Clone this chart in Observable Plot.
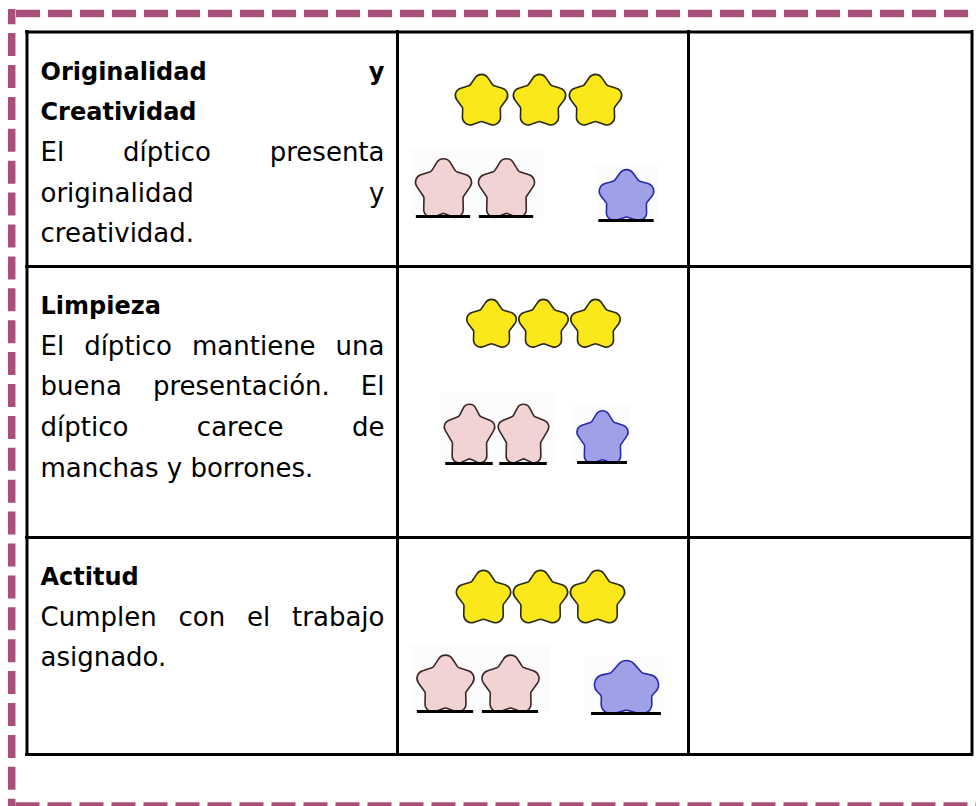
<!DOCTYPE html>
<html><head><meta charset="utf-8">
<script src="https://cdn.jsdelivr.net/npm/d3@7"></script>
<script src="https://cdn.jsdelivr.net/npm/@observablehq/plot@0.6"></script>
<style>html,body{margin:0;padding:0;background:#fff;overflow:hidden}</style>
</head><body><div id="chart"></div>
<script>
// ---------------- data ----------------
const criteria = ["Originalidad y Creatividad", "Limpieza", "Actitud"];
const criterionLines = [["Originalidad y", "Creatividad"], ["Limpieza"], ["Actitud"]];
const descriptionLines = [
  ["El díptico presenta", "originalidad y", "creatividad."],
  ["El díptico mantiene una", "buena presentación. El", "díptico carece de", "manchas y borrones."],
  ["Cumplen con el trabajo", "asignado."]
];
const yellowStars = [3, 3, 3];
const pinkStars = [2, 2, 2];
const blueStars = [1, 1, 1];

// ---------------- layout (separate from data) ----------------
const W = 976, H = 806;
const colEdges = [26.5, 397, 688, 971.5];
const rowEdges = [31.5, 266, 537, 754];
const frameColor = "#a8507b";
const textLeft = 40, textRight = 384;
const firstBaseline = 47.5, lineStep = 40.7;
const boldFont = {size: 24, weight: "bold"};
const regFont = {size: 26, weight: "normal"};
const family = "DejaVu Sans";

// star placement offsets relative to the middle cell's top-left corner
const starLayout = [
  {y: {dx: [84, 142, 198], dy: 69.5, r: 27, a: 1},
   p: {dx: [46, 109], dy: 158, r: 28, a: 1.13, line: 184.5, bg: [14, 146, 117.5, 185.5]},
   b: {dx: [229], dy: 165, r: 28.5, a: 0.95, line: 188.5, bg: [198, 261, 133.5, 190.5]}},
  {y: {dx: [94, 146, 198], dy: 58.5, r: 25.5, a: 1},
   p: {dx: [72, 126], dy: 168.8, r: 24.5, a: 1.3, line: 197, bg: [44, 159, 127, 198]},
   b: {dx: [205], dy: 172.3, r: 25.7, a: 1.1, line: 196, bg: [176, 233, 138, 198]}},
  {y: {dx: [86, 143, 200], dy: 61, r: 28, a: 1},
   p: {dx: [48, 113], dy: 148, r: 29, a: 1.05, line: 174, bg: [14, 153, 108, 175]},
   b: {dx: [229], dy: 152, r: 36, a: 0.78, line: 176, bg: [188, 268, 119, 179]}}
];

// ---------------- helpers ----------------
const ctx = document.createElement("canvas").getContext("2d");
function measure(t, f) { ctx.font = `${f.weight} ${f.size}px "${family}"`; return ctx.measureText(t).width; }

function paragraphWords(lines, f, startIdx, rowTop) {
  const out = [];
  lines.forEach((line, li) => {
    const words = line.split(" ");
    const widths = words.map(w => measure(w, f));
    const y = rowTop + firstBaseline + (startIdx + li) * lineStep;
    const last = li === lines.length - 1;
    let gap = measure(" ", f);
    if (!last && words.length > 1) {
      gap = (textRight - textLeft - d3.sum(widths)) / (words.length - 1);
    }
    let x = textLeft;
    words.forEach((w, wi) => { out.push({t: w, x, y, f}); x += widths[wi] + gap; });
  });
  return out;
}

// rounded "puffy" five-pointed star; outer points pushed out so that the
// rounded tips still reach radius R
function puffyStar(aspect = 1, inner = 0.6) {
  return {
    draw(c, size) {
      const R = Math.sqrt(size / Math.PI);
      const Ro = R * 1.22;
      const pts = [];
      for (let i = 0; i < 10; i++) {
        const ang = -Math.PI / 2 + i * Math.PI / 5;
        const rr = i % 2 ? Ro * inner : Ro;
        pts.push([rr * Math.cos(ang), rr * Math.sin(ang) * aspect]);
      }
      const n = pts.length;
      const m0 = [(pts[n - 1][0] + pts[0][0]) / 2, (pts[n - 1][1] + pts[0][1]) / 2];
      c.moveTo(m0[0], m0[1]);
      for (let i = 0; i < n; i++) {
        const p = pts[i], q = pts[(i + 1) % n];
        c.arcTo(p[0], p[1], q[0], q[1], i % 2 ? R * 0.12 : R * 0.28);
      }
      c.closePath();
    }
  };
}

// ---------------- build marks ----------------
const words = [];
criteria.forEach((c, i) => {
  const top = rowEdges[i];
  words.push(...paragraphWords(criterionLines[i], boldFont, 0, top));
  words.push(...paragraphWords(descriptionLines[i], regFont, criterionLines[i].length, top));
});

const marks = [];
// decorative dashed frame
marks.push(Plot.ruleY([13], {x1: 16, x2: W, stroke: frameColor, strokeWidth: 7.5, strokeDasharray: "24 8"}));
marks.push(Plot.ruleX([11.2], {y1: 9, y2: H, stroke: frameColor, strokeWidth: 7.5, strokeDasharray: "23 8.9", strokeDashoffset: 7.8}));
marks.push(Plot.ruleY([805.5], {x1: 15.5, x2: W, stroke: frameColor, strokeWidth: 7.5, strokeDasharray: "24 8"}));

// star rows
const starColors = {
  y: {fill: "#fbe81a", stroke: "#2a2a10"},
  p: {fill: "#f1d3d3", stroke: "#3a2626"},
  b: {fill: "#9ea0e8", stroke: "#2a2aa8"}
};
const counts = {y: yellowStars, p: pinkStars, b: blueStars};
criteria.forEach((c, i) => {
  const ox = colEdges[1], oy = rowEdges[i];
  const L = starLayout[i];
  // faint picture backgrounds of pink/blue images
  const bgs = ["p", "b"].map(k => ({x1: ox + L[k].bg[0], x2: ox + L[k].bg[1], y1: oy + L[k].bg[2], y2: oy + L[k].bg[3]}));
  marks.push(Plot.rect(bgs, {x1: "x1", x2: "x2", y1: "y1", y2: "y2", fill: "#fcfcfd"}));
  ["y", "p", "b"].forEach(k => {
    const s = L[k];
    const pts = s.dx.slice(0, counts[k][i]).map(dx => ({x: ox + dx, y: oy + s.dy}));
    marks.push(Plot.dot(pts, {x: "x", y: "y", r: s.r, symbol: puffyStar(s.a), fill: starColors[k].fill, stroke: starColors[k].stroke, strokeWidth: 1.6}));
    if (s.line) {
      marks.push(Plot.ruleY(pts, {y: () => oy + s.line, x1: d => d.x - s.r * 0.97, x2: d => d.x + s.r * 0.97, stroke: "#000", strokeWidth: 3}));
    }
  });
});

// table grid
marks.push(Plot.ruleX(colEdges, {y1: rowEdges[0] - 1.5, y2: rowEdges[3] + 1.5, stroke: "#000", strokeWidth: 3}));
marks.push(Plot.ruleY(rowEdges, {x1: colEdges[0] - 1.5, x2: colEdges[3] + 1.5, stroke: "#000", strokeWidth: 3}));

// text
marks.push(Plot.text(words.filter(d => d.f === boldFont), {x: "x", y: "y", text: "t", textAnchor: "start", lineAnchor: "bottom", fontSize: boldFont.size, fontWeight: "bold", fontFamily: family, fill: "#000"}));
marks.push(Plot.text(words.filter(d => d.f === regFont), {x: "x", y: "y", text: "t", textAnchor: "start", lineAnchor: "bottom", fontSize: regFont.size, fontFamily: family, fill: "#000"}));

const chart = Plot.plot({
  width: W, height: H, margin: 0,
  x: {domain: [0, W], range: [0, W], axis: null},
  y: {domain: [0, H], range: [0, H], axis: null},
  style: {background: "#fff"},
  marks
});
document.getElementById("chart").appendChild(chart);
</script>
</body></html>
